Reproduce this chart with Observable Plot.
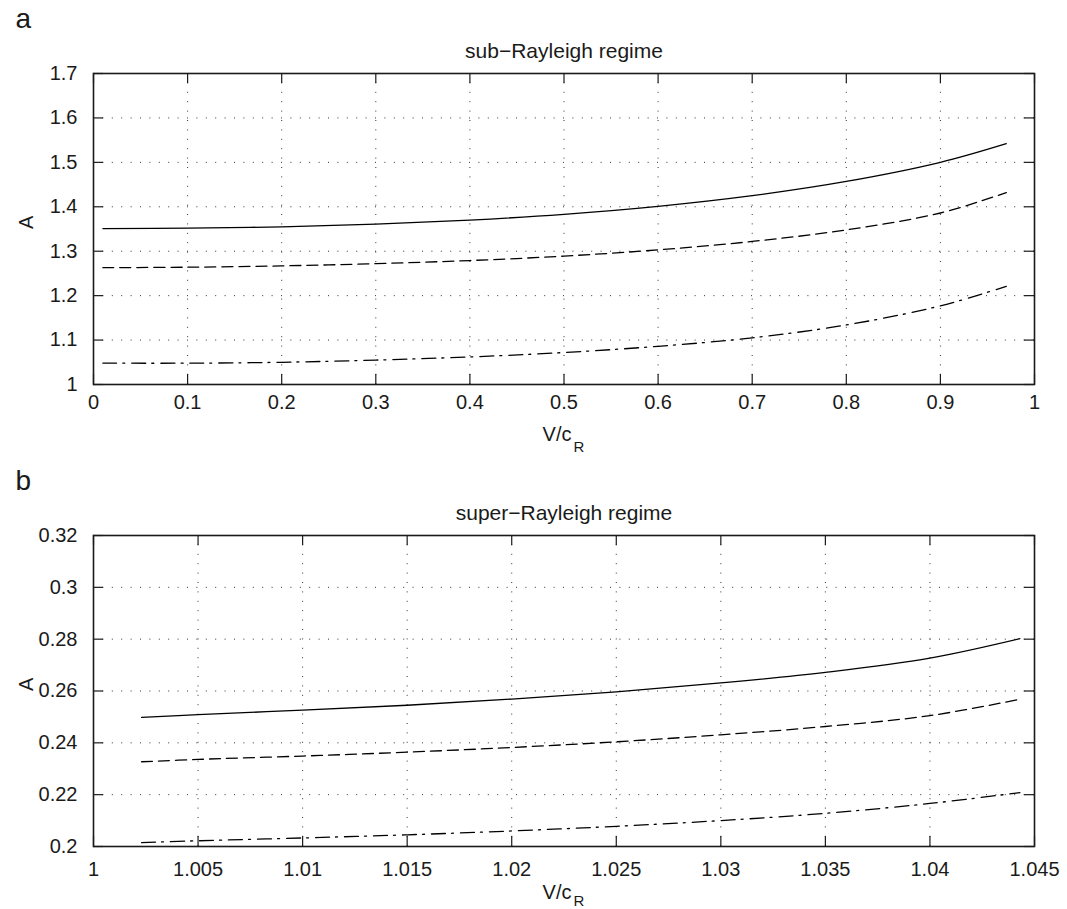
<!DOCTYPE html>
<html><head><meta charset="utf-8">
<script src="https://cdn.jsdelivr.net/npm/d3@7"></script>
<script src="https://cdn.jsdelivr.net/npm/@observablehq/plot@0.6"></script>
<style>body{margin:0;background:#fff} #chart svg{display:block}</style>
</head><body><div id="chart"></div>
<script>
// ---- Panel a: sub-Rayleigh regime ----
const xA = [0.01, 0.1, 0.2, 0.3, 0.4, 0.5, 0.6, 0.7, 0.8, 0.9, 0.97];
const solidA = [1.351, 1.352, 1.355, 1.361, 1.370, 1.383, 1.401, 1.425, 1.457, 1.500, 1.542];
const dashedA = [1.263, 1.264, 1.267, 1.272, 1.279, 1.289, 1.303, 1.322, 1.348, 1.386, 1.432];
const dashdotA = [1.048, 1.048, 1.050, 1.055, 1.062, 1.072, 1.086, 1.105, 1.134, 1.177, 1.221];
const xTicksA = [0, 0.1, 0.2, 0.3, 0.4, 0.5, 0.6, 0.7, 0.8, 0.9, 1];
const yTicksA = [1, 1.1, 1.2, 1.3, 1.4, 1.5, 1.6, 1.7];

// ---- Panel b: super-Rayleigh regime ----
const xB = [1.0023, 1.005, 1.01, 1.015, 1.02, 1.025, 1.03, 1.035, 1.04, 1.0443];
const solidB = [0.2498, 0.2509, 0.2526, 0.2545, 0.2569, 0.2597, 0.2631, 0.2672, 0.2727, 0.2802];
const dashedB = [0.2327, 0.2336, 0.2349, 0.2364, 0.2382, 0.2404, 0.2431, 0.2463, 0.2505, 0.2568];
const dashdotB = [0.2015, 0.2022, 0.2033, 0.2045, 0.2060, 0.2078, 0.2100, 0.2128, 0.2166, 0.2208];
const xTicksB = [1, 1.005, 1.01, 1.015, 1.02, 1.025, 1.03, 1.035, 1.04, 1.045];
const yTicksB = [0.2, 0.22, 0.24, 0.26, 0.28, 0.3, 0.32];

const panelLabels = ["a", "b"];
const titles = ["sub\u2212Rayleigh regime", "super\u2212Rayleigh regime"];
const yLabel = "A";
const xLabelMain = "V/c";
const xLabelSub = "R";

const fmt = d => String(+d.toFixed(4));
const FONT = "'Liberation Sans', Arial, Helvetica, sans-serif";
const INK = "#1a1a1a";

function panel(cfg) {
  const W = 1067, ML = 93, MR = 33;
  const fw = W - ML - MR;
  const fh = cfg.height - cfg.marginTop - cfg.marginBottom;
  const rows = cfg.xs.map((x, i) => ({x, solid: cfg.solid[i], dashed: cfg.dashed[i], dashdot: cfg.dashdot[i]}));
  const txt = {fill: INK, lineAnchor: "middle"};
  return Plot.plot({
    width: W, height: cfg.height,
    marginTop: cfg.marginTop, marginBottom: cfg.marginBottom, marginLeft: ML, marginRight: MR,
    style: {fontFamily: FONT, fontSize: "20px", background: "white", color: INK},
    x: {domain: [cfg.xTicks[0], cfg.xTicks[cfg.xTicks.length - 1]]},
    y: {domain: [cfg.yTicks[0], cfg.yTicks[cfg.yTicks.length - 1]]},
    marks: [
      Plot.gridX(cfg.xTicks.slice(1, -1), {stroke: "#333", strokeOpacity: 1, strokeWidth: 1, strokeDasharray: "1,8.4"}),
      Plot.gridY(cfg.yTicks.slice(1, -1), {stroke: "#333", strokeOpacity: 1, strokeWidth: 1, strokeDasharray: "1,8.4"}),
      Plot.tickX(cfg.xTicks, {x: d => d, insetTop: fh - 10, stroke: INK, strokeWidth: 1.2}),
      Plot.tickX(cfg.xTicks, {x: d => d, insetBottom: fh - 10, stroke: INK, strokeWidth: 1.2}),
      Plot.tickY(cfg.yTicks, {y: d => d, insetRight: fw - 10, stroke: INK, strokeWidth: 1.2}),
      Plot.tickY(cfg.yTicks, {y: d => d, insetLeft: fw - 10, stroke: INK, strokeWidth: 1.2}),
      Plot.axisX({ticks: cfg.xTicks, tickSize: 0, tickPadding: cfg.xPad, tickFormat: fmt, label: null, fontSize: 20}),
      Plot.axisY({ticks: cfg.yTicks, tickSize: 0, tickPadding: 16, tickFormat: fmt, label: null, fontSize: 20}),
      Plot.line(rows, {x: "x", y: "solid", stroke: "black", strokeWidth: 1.3, curve: "catmull-rom"}),
      Plot.line(rows, {x: "x", y: "dashed", stroke: "black", strokeWidth: 1.3, strokeDasharray: "11,6", curve: "catmull-rom"}),
      Plot.line(rows, {x: "x", y: "dashdot", stroke: "black", strokeWidth: 1.3, strokeDasharray: "14,6,2,7", curve: "catmull-rom"}),
      Plot.frame({stroke: INK, strokeWidth: 1.6}),
      Plot.text([cfg.label], {...txt, frameAnchor: "top-left", textAnchor: "start", dx: -78, dy: -54, fontSize: 28}),
      Plot.text([cfg.title], {...txt, frameAnchor: "top", dy: -22.7, fontSize: 21}),
      Plot.text([yLabel], {...txt, frameAnchor: "left", rotate: -90, dx: -66.7, fontSize: 20}),
      Plot.text([xLabelMain], {...txt, frameAnchor: "bottom", textAnchor: "end", dx: 7.5, dy: cfg.xLabDy, fontSize: 20}),
      Plot.text([xLabelSub], {...txt, frameAnchor: "bottom", textAnchor: "start", dx: 9.5, dy: cfg.xLabDy + cfg.subOff, fontSize: 15})
    ]
  });
}

const chart = document.getElementById("chart");
chart.append(panel({
  height: 455, marginTop: 73, marginBottom: 71,
  xs: xA, solid: solidA, dashed: dashedA, dashdot: dashdotA,
  xTicks: xTicksA, yTicks: yTicksA, xPad: 10, xLabDy: 49.6, subOff: 12.6,
  label: panelLabels[0], title: titles[0]
}));
chart.append(panel({
  height: 454, marginTop: 80, marginBottom: 63,
  xs: xB, solid: solidB, dashed: dashedB, dashdot: dashdotB,
  xTicks: xTicksB, yTicks: yTicksB, xPad: 15, xLabDy: 45.6, subOff: 8.6,
  label: panelLabels[1], title: titles[1]
}));
</script></body></html>
